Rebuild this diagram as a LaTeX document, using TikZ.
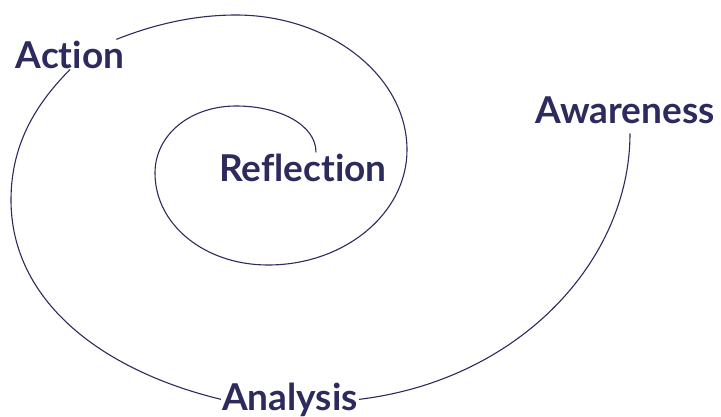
\documentclass[tikz,border=0pt]{standalone}
\usepackage{fontspec}
\setmainfont{Lato}[Ligatures=NoCommon]
\usepackage{tikz}
\definecolor{ink}{HTML}{2D2A5E}
\begin{document}
\begin{tikzpicture}[x=1pt,y=-1pt,
		word/.style={font=\fontsize{37}{40}\selectfont\bfseries,text=ink,inner sep=1pt,anchor=base},
		spiral/.style={draw=ink,line width=1.1pt}]
		\useasboundingbox (0,0) rectangle (721,416);
		\node[word](action) at (70,68) {Action};
		\node[word](aware) at (625,123) {Awareness};
		\node[word](refl) at (303,181) {Reflection};
		\node[word](analysis) at (290,410) {Analysis};
		\path[spiral]
		([xshift=5pt,yshift=-9pt]aware.south) .. controls (630,260) and (520,380) .. (analysis.east);
		\path[spiral]
		(analysis.west) .. controls (100,370) and (11,300) .. (11,200)
		.. controls (11,140) and (40,100) .. (action.south);
		\path[spiral]
		(action.18) .. controls (160,22) and (200,15) .. (236,15)
		.. controls (328,15) and (407,75) .. (407,150)
		.. controls (407,213) and (345,265) .. (268,265)
		.. controls (205,265) and (155,225) .. (155,173)
		.. controls (155,135) and (190,106) .. (236,106)
		.. controls (280,106) and (316,125) .. ([xshift=13pt]refl.north);
\end{tikzpicture}
\end{document}
